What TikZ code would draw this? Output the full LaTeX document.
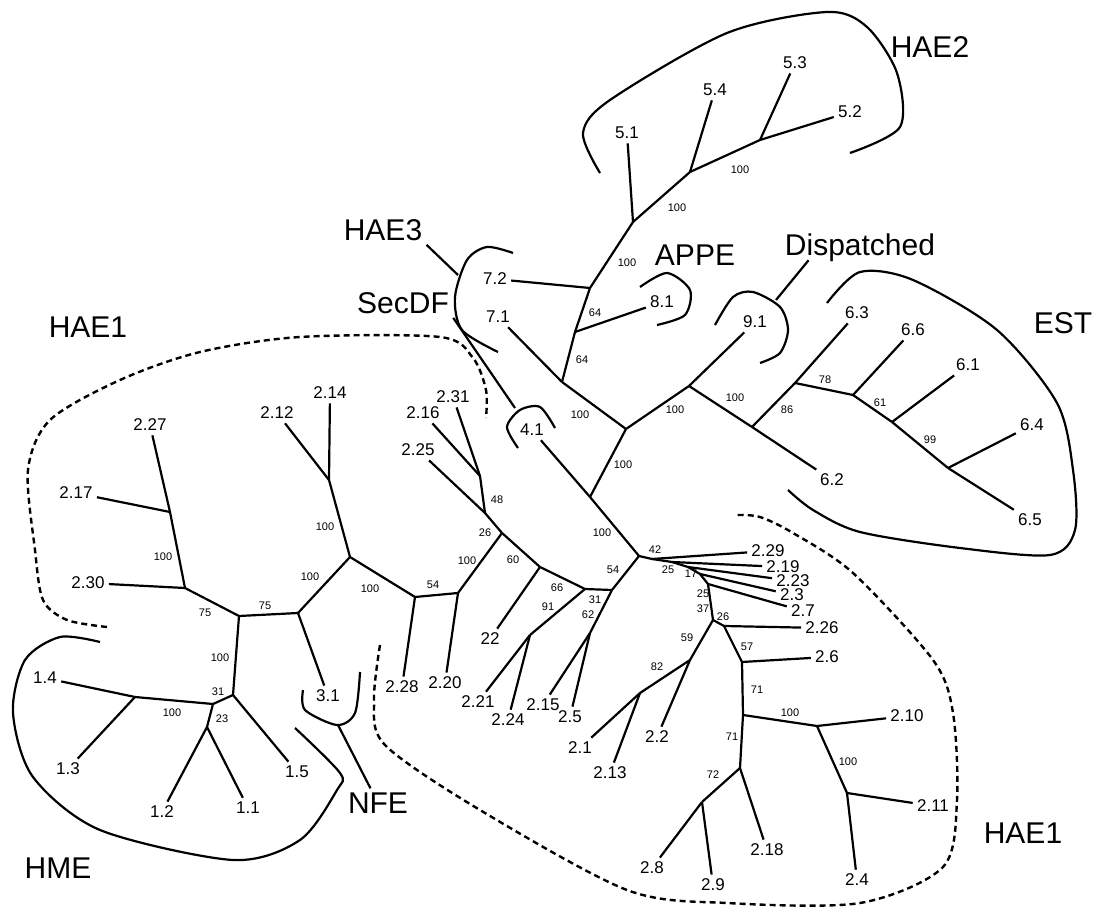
\documentclass[tikz,border=0pt]{standalone}
\usepackage{fontspec}
\setmainfont{Liberation Sans}
\begin{document}
\begin{tikzpicture}[x=0.5pt,y=-0.5pt,
  edge/.style={line width=1.1pt},
  bracket/.style={line width=1.1pt},
  hull/.style={line width=1.2pt,dash pattern=on 3pt off 2pt},
  leaf/.style={inner sep=2pt,font=\fontsize{8.5}{10}\selectfont},
  boot/.style={inner sep=0pt,font=\fontsize{5.5}{6}\selectfont},
  group/.style={inner sep=2pt,text depth=0pt,font=\fontsize{15}{18}\selectfont}]
\useasboundingbox (0,0) rectangle (1103,914);

% inner vertices of the tree
\foreach \n/\x/\y in {v1/170/512, v2/185/588, v3/239/616, v4/298/613, v5/350/557,
  v6/329/480, v7/415/597, v8/458/593, v9/502/533, v10/485/513, v11/480/476,
  v12/540/567, v13/585/589, v14/612/590, v15/530/635, v16/590/633, v17/639/556,
  v18/590/497, v19/626/429, v20/562/382, v21/575/332, v22/590/288, v23/633/222,
  v24/690/172, v25/760/140, v26/689/386, v27/752/427, v28/795/383, v29/853/395,
  v30/892/422, v31/948/468, v32/652/559, v33/672/562, v34/688/567, v35/700/574,
  v36/708/584, v37/713/620, v38/724/626, v39/742/662, v40/743/715, v41/817/726,
  v42/847/793, v43/740/768, v44/702/802, v45/690/660, v46/640/693, v47/233/695,
  v48/213/704, v49/135/697, v50/207/727}
  \coordinate (\n) at (\x,\y);

% leaf labels
\foreach \n/\x/\y/\t in {s2d27/150/425/2.27, s2d17/76/493/2.17, s2d30/88/583/2.30,
  s2d12/277/413/2.12, s2d14/330/393/2.14, s3d1/328/696/3.1, s2d28/402/687/2.28,
  s2d20/445/683/2.20, s2d16/423/413/2.16, s2d31/453/397/2.31, s2d25/418/450/2.25,
  s22/490/639/22, s2d21/478/702/2.21, s2d24/508/720/2.24, s2d15/543/705/2.15,
  s2d5/570/717/2.5, s4d1/532/430/4.1, s7d1/498/317/7.1, s7d2/495/279/7.2,
  s8d1/662/302/8.1, s5d1/627/133/5.1, s5d4/715/90/5.4, s5d3/795/63/5.3,
  s5d2/850/112/5.2, s9d1/755/322/9.1, s6d2/832/480/6.2, s6d3/857/313/6.3,
  s6d6/913/330/6.6, s6d1/968/365/6.1, s6d4/1032/425/6.4, s6d5/1030/520/6.5,
  s2d29/768/551/2.29, s2d19/783/567/2.19, s2d23/793/581/2.23, s2d3/792/595/2.3,
  s2d7/803/611/2.7, s2d26/822/628/2.26, s2d6/827/657/2.6, s2d10/907/716/2.10,
  s2d11/933/806/2.11, s2d4/857/880/2.4, s2d18/767/850/2.18, s2d8/652/868/2.8,
  s2d9/713/885/2.9, s2d2/657/737/2.2, s2d1/580/748/2.1, s2d13/610/773/2.13,
  s1d4/45/678/1.4, s1d3/68/769/1.3, s1d2/162/812/1.2, s1d1/248/808/1.1,
  s1d5/297/772/1.5}
  \node[leaf] (\n) at (\x,\y) {\t};

% branches
\foreach \u/\v in {v1/v2, v2/v3, v3/v4, v4/v5, v5/v6, v5/v7, v7/v8, v8/v9, v9/v10,
  v10/v11, v9/v12, v12/v13, v13/v14, v14/v17, v13/v15, v14/v16, v17/v18, v18/v19,
  v19/v20, v20/v21, v21/v22, v22/v23, v23/v24, v24/v25, v19/v26, v26/v27, v27/v28,
  v28/v29, v29/v30, v30/v31, v17/v32, v32/v33, v33/v34, v34/v35, v35/v36, v36/v37,
  v37/v38, v38/v39, v39/v40, v40/v41, v41/v42, v40/v43, v43/v44, v37/v45, v45/v46,
  v3/v47, v47/v48, v48/v49, v48/v50}
  \draw[edge] (\u) -- (\v);
\foreach \u/\v in {v1/s2d27, v1/s2d17, v2/s2d30, v6/s2d12, v6/s2d14, v4/s3d1,
  v7/s2d28, v8/s2d20, v11/s2d16, v11/s2d31, v10/s2d25, v12/s22, v15/s2d21,
  v15/s2d24, v16/s2d15, v16/s2d5, v18/s4d1, v20/s7d1, v22/s7d2, v21/s8d1,
  v23/s5d1, v24/s5d4, v25/s5d3, v25/s5d2, v26/s9d1, v27/s6d2, v28/s6d3, v29/s6d6,
  v30/s6d1, v31/s6d4, v31/s6d5, v32/s2d29, v33/s2d19, v34/s2d23, v35/s2d3,
  v36/s2d7, v38/s2d26, v39/s2d6, v41/s2d10, v42/s2d11, v42/s2d4, v43/s2d18,
  v44/s2d8, v44/s2d9, v45/s2d2, v46/s2d1, v46/s2d13, v49/s1d4, v49/s1d3,
  v50/s1d2, v50/s1d1, v47/s1d5}
  \draw[edge] (\u) -- (\v);

% bootstrap values
\foreach \x/\y/\t [count=\i] in {163/557/100, 205/613/75, 265/606/75, 310/577/100,
  325/527/100, 370/589/100, 220/658/100, 218/692/31, 172/713/100, 222/719/23,
  433/585/54, 467/561/100, 485/533/26, 497/500/48, 513/560/60, 557/588/66,
  548/607/91, 595/600/31, 588/615/62, 613/570/54, 655/550/42, 602/533/100,
  623/465/100, 580/415/100, 582/360/64, 595/313/64, 627/263/100, 677/208/100,
  740/170/100, 675/410/100, 735/398/100, 787/410/86, 825/380/78, 880/403/61,
  930/440/99, 668/570/25, 691/574/17, 703/594/25, 703/609/37, 723/617/26,
  687/638/59, 747/647/57, 757/690/71, 790/713/100, 848/762/100, 732/737/71,
  713/775/72, 657/667/82}
  \node[boot] (bs\i) at (\x,\y) {\t};

% group names
\node[group] (gHAE2) at (930,47) {HAE2};
\node[group] (gHAE3) at (383,230) {HAE3};
\node[group] (gAPPE) at (695,255) {APPE};
\node[group] (gDisp) at (860,245) {Dispatched};
\node[group] (gSecDF) at (403,303) {SecDF};
\node[group] (gEST) at (1063,323) {EST};
\node[group] (gHAEa) at (88,327) {HAE1};
\node[group] (gHAEb) at (1023,833) {HAE1};
\node[group] (gHME) at (58,868) {HME};
\node[group] (gNFE) at (378,803) {NFE};

% brackets round the groups
\draw[bracket] plot[smooth] coordinates {(600,173) (583,133) (610,100) (727,33)
  (827,12) (867,27) (897,73) (900,127) (850,153)};
\draw[bracket] plot[smooth] coordinates {(513,253) (487,247) (467,260) (455,297)
  (462,330) (498,352)};
\draw[bracket] plot[smooth] coordinates {(518,448) (507,427) (520,410) (540,407)
  (555,428)};
\draw[bracket] plot[smooth] coordinates {(640,287) (667,273) (690,290) (685,315)
  (657,325)};
\draw[bracket] plot[smooth] coordinates {(715,325) (733,297) (753,292) (780,307)
  (788,330) (780,353) (760,363)};
\draw[bracket] plot[smooth] coordinates {(827,303) (860,272) (913,280) (997,330)
  (1057,403) (1073,470) (1075,530) (1050,555) (960,548) (860,532) (813,510)
  (788,490)};
\draw[bracket] plot[smooth] coordinates {(100,642) (60,637) (25,660) (13,713)
  (33,777) (100,830) (233,860) (300,840) (337,790) (340,773) (295,728)};
\draw[bracket] plot[smooth] coordinates {(360,672) (355,713) (337,725) (305,710)
  (303,690)};

\draw[hull] plot[smooth] coordinates {(107,627) (67,620) (43,600) (35,550) (28,470)
  (50,420) (120,380) (200,352) (300,337) (440,337) (473,358) (486,390) (486,418)};
\draw[hull] plot[smooth] coordinates {(380,645) (374,700) (385,745) (480,810)
  (627,890) (727,903) (860,903) (943,867) (957,800) (953,713) (933,660) (853,573)
  (793,533) (760,517) (737,515)};

% pointers from names to brackets
\coordinate (k3) at (458,275);
\coordinate (k4) at (515,408);
\coordinate (k9) at (776,300);
\coordinate (k31) at (338,725);
\draw[edge] (gHAE3.south east) -- (k3);
\draw[edge] (gSecDF.south east) -- (k4);
\draw[edge] ([xshift=14pt]gDisp.south west) -- (k9);
\draw[edge] (k31) -- (gNFE);
\end{tikzpicture}
\end{document}
